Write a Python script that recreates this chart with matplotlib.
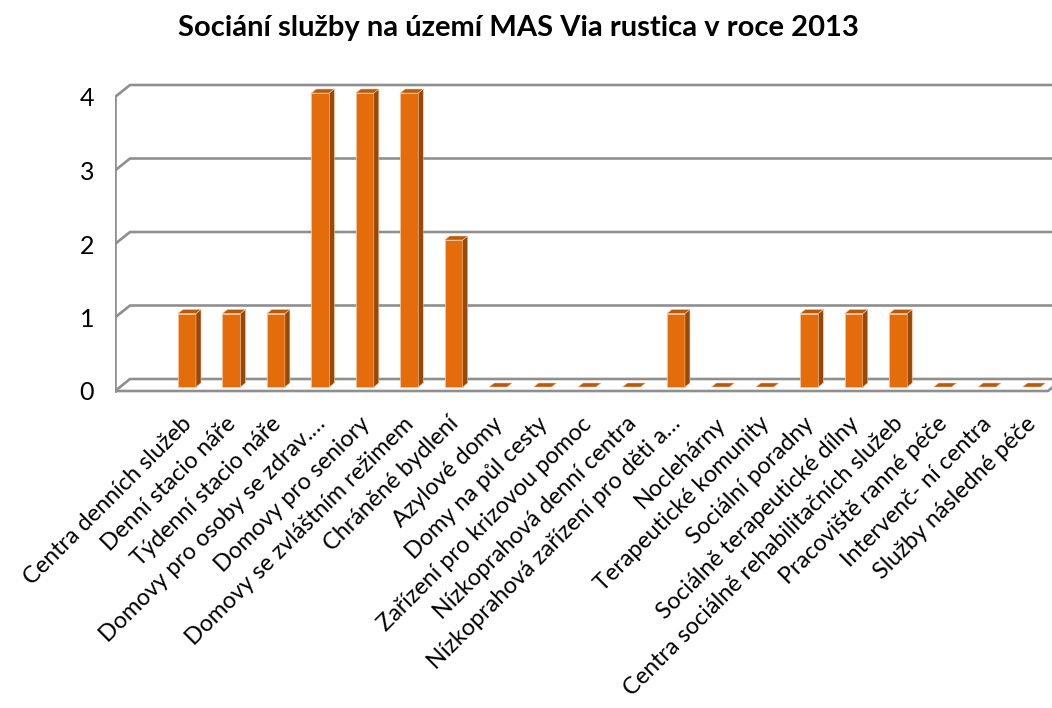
import matplotlib
matplotlib.use("Agg")
import matplotlib.pyplot as plt
from matplotlib.patches import Polygon

plt.rcParams['font.family'] = ['Lato', 'DejaVu Sans']

# data
categories = [
    "Centra denních služeb",
    "Denní stacio náře",
    "Týdenní stacio náře",
    "Domovy pro osoby se zdrav.…",
    "Domovy pro seniory",
    "Domovy se zvláštním režimem",
    "Chráněné bydlení",
    "Azylové domy",
    "Domy na půl cesty",
    "Zařízení pro krizovou pomoc",
    "Nízkoprahová denní centra",
    "Nízkoprahová zařízení pro děti a…",
    "Noclehárny",
    "Terapeutické komunity",
    "Sociální poradny",
    "Sociálně terapeutické dílny",
    "Centra sociálně rehabilitačních služeb",
    "Pracoviště ranné péče",
    "Intervenč- ní centra",
    "Služby následné péče",
]
values = [1, 1, 1, 4, 4, 4, 2, 0, 0, 0, 0, 1, 0, 0, 1, 1, 1, 0, 0, 0]
yticks = [0, 1, 2, 3, 4]
title = "Sociání služby na území MAS Via rustica v roce 2013"

# colours
FRONT = "#e46c0a"
SIDE = "#984807"
TOP = "#b85a0a"
EDGE = "#f5c39a"
GRID = "#8f8f8f"

W, H = 1052, 708
fig = plt.figure(figsize=(W / 100, H / 100), dpi=100)
ax = fig.add_axes([115 / W, 1 - 395 / H, (W - 115) / W, 315 / H])

# pixel scale of the front plane
px_x = 44.45
px_y = 73.5
ax.set_xlim((115 - 182) / px_x, (W - 182) / px_x)
ax.set_ylim((391 - 395) / px_y, (391 - 80) / px_y)

# depth offsets (front -> back)
DX = 15 / px_x
DY = 12 / px_y


def pt(x, v, d):
    return (x + d * DX, v + d * DY)


x_left = ax.get_xlim()[0]
x_right = (1048 - 182) / px_x
ymax = max(yticks)

# back wall gridlines + left wall diagonals
for t in yticks:
    xs, ys = zip(pt(x_left, t, 0), pt(x_left, t, 1), pt(x_right + 2, t, 1))
    ax.plot(xs, ys, color=GRID, lw=1.9, solid_capstyle='butt', zorder=1)
# left wall front edge
ax.plot([x_left, x_left], [0, ymax], color=GRID, lw=1.9, zorder=1)
# floor front edge and right side
xs, ys = zip(pt(x_left, 0, 0), pt(x_right, 0, 0), pt(x_right, 0, 1))
ax.plot(xs, ys, color=GRID, lw=1.9, zorder=1)

# bars
bw = 18 / px_x
d1, d2 = 1 / 3, 2 / 3
for i, v in enumerate(values):
    x0, x1 = i - bw / 2, i + bw / 2
    top = [pt(x0, v, d1), pt(x1, v, d1), pt(x1, v, d2), pt(x0, v, d2)]
    if v > 0:
        front = [pt(x0, 0, d1), pt(x1, 0, d1), pt(x1, v, d1), pt(x0, v, d1)]
        side = [pt(x1, 0, d1), pt(x1, 0, d2), pt(x1, v, d2), pt(x1, v, d1)]
        ax.add_patch(Polygon(front, closed=True, fc=FRONT, ec=EDGE, lw=0.6, zorder=3))
        ax.add_patch(Polygon(side, closed=True, fc=SIDE, ec=EDGE, lw=0.4, zorder=3))
    ax.add_patch(Polygon(top, closed=True, fc=TOP, ec=EDGE, lw=0.4, zorder=3))

for s in ax.spines.values():
    s.set_visible(False)
ax.set_yticks(yticks)
ax.set_yticklabels([str(t) for t in yticks], fontsize=18)
ax.tick_params(axis='y', length=0, pad=15)

tick_x = [i + d1 * DX - 6 / px_x for i in range(len(categories))]
ax.set_xticks(tick_x)
ax.set_xticklabels(categories, rotation=45, ha='right', va='top',
                   rotation_mode='anchor', fontsize=16.8)
ax.tick_params(axis='x', length=0, pad=13)

fig.text(518 / W, 1 - 28 / H, title, ha='center', va='center',
         fontsize=21, fontweight='bold')

fig.savefig("out.png", dpi=100, facecolor='white')
